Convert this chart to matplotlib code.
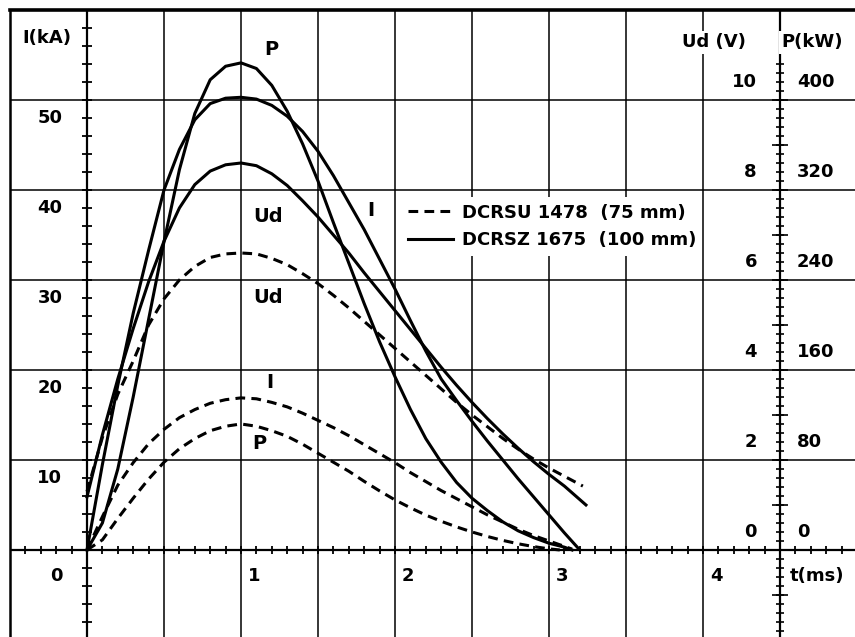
import numpy as np
import matplotlib.pyplot as plt

plt.rcParams['font.family'] = ['DejaVu Sans']
plt.rcParams['font.weight'] = 'bold'
plt.rcParams['lines.scale_dashes'] = False

# DCRSZ 1675 (100 mm) -- solid curves, read every 0.1 ms
t_z = [0, 0.1, 0.2, 0.3, 0.4, 0.5, 0.6, 0.7, 0.8, 0.9, 1.0, 1.1, 1.2, 1.3, 1.4, 1.5,
       1.6, 1.7, 1.8, 1.9, 2.0, 2.1, 2.2, 2.3, 2.4, 2.5, 2.6, 2.7, 2.8, 2.9, 3.0, 3.1]
i_z = [0, 9.5, 18.3, 26.3, 33.3, 40.0, 44.5, 47.8, 49.6, 50.2, 50.3, 50.1, 49.4, 48.2,
       46.5, 44.3, 41.6, 38.6, 35.6, 32.3, 29.0, 25.5, 22.1, 19.0, 16.6, 14.3, 12.1,
       10.0, 7.9, 5.9, 3.9, 1.9]
ud_z = [1.18, 2.56, 3.8, 4.92, 5.96, 6.86, 7.6, 8.12, 8.42, 8.56, 8.6, 8.54, 8.36, 8.1,
        7.76, 7.4, 7.0, 6.6, 6.16, 5.74, 5.32, 4.9, 4.48, 4.06, 3.66, 3.28, 2.92, 2.58,
        2.26, 1.96, 1.68, 1.42]
p_z = [0, 24, 72, 136, 205, 274, 338, 388, 418, 430, 433, 428, 413, 390, 361, 328,
       291, 255, 219, 185, 154, 125, 99, 78, 60, 46, 35, 25, 17, 11, 6, 2.5]
# curve ends
t_i_z_end, i_z_end = 3.2, 0.0
t_ud_z_end, ud_z_end = 3.24, 1.0
t_p_z_end, p_z_end = 3.15, 0.0

# DCRSU 1478 (75 mm) -- dashed curves, read every 0.1 ms
t_u = [0, 0.1, 0.2, 0.3, 0.4, 0.5, 0.6, 0.7, 0.8, 0.9, 1.0, 1.1, 1.2, 1.3, 1.4, 1.5,
       1.6, 1.7, 1.8, 1.9, 2.0, 2.1, 2.2, 2.3, 2.4, 2.5, 2.6, 2.7, 2.8, 2.9, 3.0]
i_u = [0, 3.7, 7.2, 9.7, 11.8, 13.4, 14.7, 15.6, 16.3, 16.7, 16.9, 16.8, 16.4, 15.9,
       15.2, 14.4, 13.6, 12.7, 11.7, 10.7, 9.7, 8.6, 7.6, 6.6, 5.7, 4.8, 3.9, 3.1, 2.3,
       1.6, 1.0]
ud_u = [1.3, 2.5, 3.46, 4.2, 5.0, 5.58, 6.0, 6.3, 6.5, 6.58, 6.6, 6.58, 6.48, 6.34,
        6.14, 5.92, 5.66, 5.38, 5.08, 4.78, 4.48, 4.18, 3.88, 3.58, 3.28, 3.0, 2.74,
        2.48, 2.24, 2.02, 1.82]
p_u = [0, 9, 28, 46, 63, 78, 90, 99, 106, 110, 112, 110, 106, 101, 94, 86, 78, 70,
       61, 52.5, 44.5, 37.5, 31, 25.5, 20.5, 16, 12, 8.5, 5.5, 3, 1]
t_i_u_end, i_u_end = 3.15, 0.1
t_ud_u_end, ud_u_end = 3.22, 1.42
t_p_u_end, p_u_end = 3.07, 0.0

i_ticks = [0, 10, 20, 30, 40, 50]
t_ticks = [1, 2, 3, 4]
ud_ticks = [0, 2, 4, 6, 8, 10]
p_ticks = [0, 80, 160, 240, 320, 400]

# everything is drawn on the I (kA) scale: 2 V and 80 kW per 10 kA grid step
UD_SCALE = 5.0
P_SCALE = 1 / 8

fig = plt.figure(figsize=(8.55, 6.37), dpi=100)
ax = fig.add_axes([10 / 855, 0, 845 / 855, 627 / 637])
ax.set_xlim(-0.5, 4.987)
ax.set_ylim(-9.67, 60)
ax.axis('off')

# grid
for x in np.arange(-0.5, 5.01, 0.5):
    ax.axvline(x, color='k', lw=1.1, zorder=1)
for y in range(-10, 61, 10):
    ax.axhline(y, color='k', lw=1.1, zorder=1)
ax.axhline(60, color='k', lw=2.6, zorder=2, clip_on=False)
ax.axvline(-0.5, color='k', lw=1.8, zorder=2, clip_on=False)

# axes with tick marks
ax.axhline(0, color='k', lw=1.6, zorder=2)
ax.axvline(0, color='k', lw=1.6, zorder=2)
ax.axvline(4.5, color='k', lw=1.6, zorder=2)
tx = np.arange(-0.5, 5.0, 0.1)
ax.plot(tx, np.zeros_like(tx), ls='none', marker='|', ms=6, mew=1.3, color='k')
iy = np.arange(-10, 59, 2)
ax.plot(np.zeros_like(iy), iy, ls='none', marker='_', ms=6.5, mew=1.3, color='k')
ry = np.arange(-10, 55, 1)
ax.plot(np.full(len(ry), 4.5), ry, ls='none', marker='_', ms=6, mew=1.2, color='k')
ry5 = np.arange(-10, 55, 5)
ax.plot(np.full(len(ry5), 4.5), ry5, ls='none', marker='_', ms=11, mew=1.2, color='k')


def curve(t, vals, t_end, v_end, scale=1.0, **style):
    x = list(t) + [t_end]
    y = np.array(list(vals) + [v_end]) * scale
    return ax.plot(x, y, color='k', lw=2.2, zorder=3,
                   solid_joinstyle='round', dash_joinstyle='round', **style)


dash = (7, 4.5)
curve(t_z, i_z, t_i_z_end, i_z_end, label='DCRSZ 1675  (100 mm)')
curve(t_z, ud_z, t_ud_z_end, ud_z_end, UD_SCALE)
curve(t_z, p_z, t_p_z_end, p_z_end, P_SCALE)
curve(t_u, i_u, t_i_u_end, i_u_end, dashes=dash, label='DCRSU 1478  (75 mm)')
curve(t_u, ud_u, t_ud_u_end, ud_u_end, UD_SCALE, dashes=dash)
curve(t_u, p_u, t_p_u_end, p_u_end, P_SCALE, dashes=dash)

fs = 13
# left / bottom axis labels
for v in i_ticks[1:]:
    ax.text(-0.16, v - 2, str(v), ha='right', va='center', fontsize=fs)
ax.text(-0.16, -2.9, '0', ha='right', va='center', fontsize=fs)
for v in t_ticks:
    ax.text(v + 0.045, -2.9, str(v), ha='left', va='center', fontsize=fs)
ax.text(4.565, -2.9, 't(ms)', ha='left', va='center', fontsize=fs)
ax.text(-0.26, 56.9, 'I(kA)', ha='center', va='center', fontsize=fs)

# right axis labels
for u, p in zip(ud_ticks, p_ticks):
    ax.text(4.35, u * UD_SCALE + 2, str(u), ha='right', va='center', fontsize=fs)
    ax.text(4.61, u * UD_SCALE + 2, str(p), ha='left', va='center', fontsize=fs)
box = dict(facecolor='white', edgecolor='none', pad=1.5)
ax.text(4.07, 56.4, 'Ud (V)', ha='center', va='center', fontsize=fs, bbox=box, zorder=4)
ax.text(4.71, 56.4, 'P(kW)', ha='center', va='center', fontsize=fs, bbox=box, zorder=4)

# curve labels
ax.text(1.2, 55.6, 'P', ha='center', va='center', fontsize=14)
ax.text(1.175, 37.1, 'Ud', ha='center', va='center', fontsize=14)
ax.text(1.84, 37.7, 'I', ha='center', va='center', fontsize=14)
ax.text(1.175, 28.0, 'Ud', ha='center', va='center', fontsize=14)
ax.text(1.19, 18.6, 'I', ha='center', va='center', fontsize=14)
ax.text(1.12, 11.8, 'P', ha='center', va='center', fontsize=14)

handles, labels = ax.get_legend_handles_labels()
leg = ax.legend(handles[::-1], labels[::-1], loc='upper left',
                bbox_to_anchor=(2.045, 39.2), bbox_transform=ax.transData,
                borderaxespad=0, borderpad=0.35, handlelength=2.5, handletextpad=0.45,
                labelspacing=0.55, fontsize=13, frameon=True, fancybox=False,
                framealpha=1, facecolor='white', edgecolor='none')
leg.set_zorder(5)

fig.savefig('out.png', dpi=100)
